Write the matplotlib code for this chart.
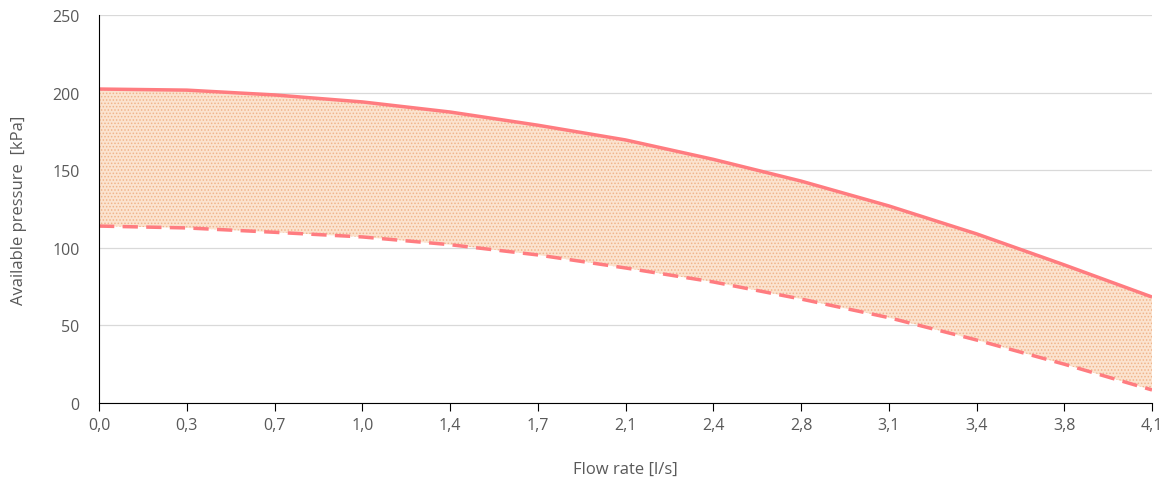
import numpy as np
import matplotlib.pyplot as plt

# Flow rate categories and pressure curves (kPa)
flow_labels = ["0,0", "0,3", "0,7", "1,0", "1,4", "1,7", "2,1",
               "2,4", "2,8", "3,1", "3,4", "3,8", "4,1"]
p_max = [202.3, 201.6, 198.5, 194.0, 187.5, 179.0, 169.5,
         157.0, 143.0, 127.0, 109.0, 89.0, 68.3]
p_min = [114.0, 112.8, 110.0, 107.0, 102.0, 95.4, 87.0,
         78.0, 67.0, 55.0, 40.6, 25.0, 8.4]

plt.rcParams['font.family'] = ['Open Sans', 'DejaVu Sans']
plt.rcParams['hatch.linewidth'] = 0.7
text_col = '#595959'
line_col = '#ff7c80'

fig = plt.figure(figsize=(11.65, 4.81), dpi=100)
ax = fig.add_axes([99 / 1165, 1 - 404 / 481, (1152 - 99) / 1165, (404 - 16) / 481])

x = np.arange(len(flow_labels))
ax.fill_between(x, p_min, p_max, facecolor='#fbe3cf', edgecolor='#f0b48a',
                hatch='.....', linewidth=0)
ax.plot(x, p_max, color=line_col, lw=2.5, solid_capstyle='butt')
ax.plot(x, p_min, color=line_col, lw=2.5, ls=(0, (4.4, 2.4)))

ax.set_xlim(0, len(flow_labels) - 1)
ax.set_ylim(0, 250)
ax.set_yticks(np.arange(0, 251, 50))
ax.set_xticks(x)
ax.set_xticklabels(flow_labels)
ax.grid(axis='y', color='#d9d9d9', lw=0.9)
ax.set_axisbelow(True)

for s in ['top', 'right']:
    ax.spines[s].set_visible(False)
ax.spines['left'].set_color('black')
ax.spines['bottom'].set_color('black')
ax.tick_params(axis='x', direction='out', length=6, colors='black',
               labelcolor=text_col, labelsize=11.5, pad=4)
ax.tick_params(axis='y', length=0, labelcolor=text_col, labelsize=11.5, pad=14)

ax.set_xlabel('Flow rate [l/s]', color=text_col, fontsize=12, labelpad=20)
ax.set_ylabel('Available pressure  [kPa]', color=text_col, fontsize=12, labelpad=18)

fig.savefig('out.png', dpi=100)
